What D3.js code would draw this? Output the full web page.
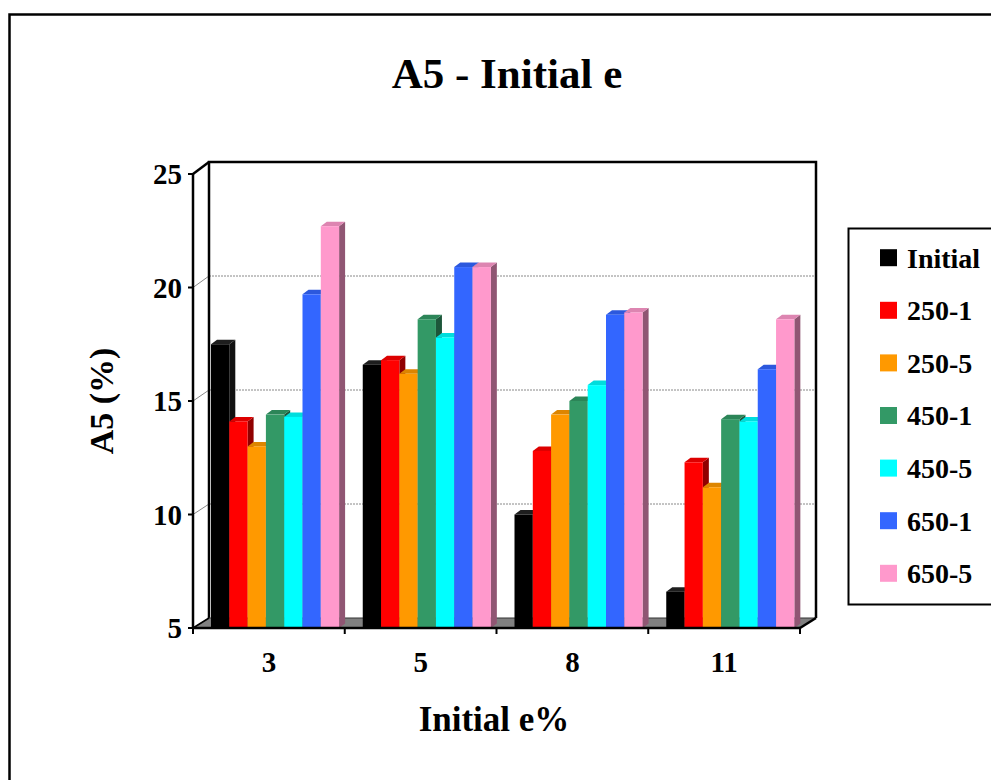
<!DOCTYPE html>
<html>
<head>
<meta charset="utf-8">
<script src="https://cdn.jsdelivr.net/npm/d3@7"></script>
<style>
  html, body { margin: 0; padding: 0; background: #fff; }
  svg { display: block; }
  text { font-family: "Liberation Serif", "Times New Roman", serif; font-weight: bold; fill: #000; }
</style>
</head>
<body>
<svg id="chart" width="991" height="780"></svg>
<script>
// Categories (initial e%) and series
const categories = ["3", "5", "8", "11"];
const seriesNames = ["Initial", "250-1", "250-5", "450-1", "450-5", "650-1", "650-5"];
const seriesColors = ["#000000", "#FF0000", "#FF9900", "#339966", "#00FFFF", "#3366FF", "#FF99CC"];

// A5 (%) per series, one value per category
const initialVals = [17.5, 16.6, 10.0, 6.6];
const s250_1 = [14.1, 16.8, 12.8, 12.3];
const s250_5 = [13.0, 16.2, 14.4, 11.2];
const s450_1 = [14.4, 18.6, 15.0, 14.2];
const s450_5 = [14.3, 17.8, 15.7, 14.1];
const s650_1 = [19.7, 20.9, 18.8, 16.4];
const s650_5 = [22.7, 20.9, 18.9, 18.6];
const seriesValues = [initialVals, s250_1, s250_5, s450_1, s450_5, s650_1, s650_5];

const yTicks = [5, 10, 15, 20, 25];
const gridValues = [10, 15, 20];

const svg = d3.select("#chart");

// Outer chart frame
svg.append("rect")
  .attr("x", 9.5).attr("y", 14.5).attr("width", 1000).attr("height", 800)
  .attr("fill", "#fff").attr("stroke", "#000").attr("stroke-width", 2.5);

// Front plane and back wall geometry
const x0 = 193, x1 = 800;
const depthX = 16;
const yFront = d3.scaleLinear().domain([5, 25]).range([628, 174]);
const yBack = d3.scaleLinear().domain([5, 25]).range([618, 162]);
const xCat = d3.scaleBand().domain(categories).range([x0, x1]).padding(0);

// Back wall
svg.append("rect")
  .attr("x", x0 + depthX).attr("y", yBack(25))
  .attr("width", x1 - x0).attr("height", yBack(5) - yBack(25))
  .attr("fill", "#fff");

// Back-wall gridlines
svg.append("g").selectAll("line").data(gridValues).join("line")
  .attr("x1", x0 + depthX).attr("x2", x1 + depthX)
  .attr("y1", d => yBack(d)).attr("y2", d => yBack(d))
  .attr("stroke", "#888").attr("stroke-width", 1).attr("stroke-dasharray", "2,1");

// Side-wall gridlines (diagonals from front axis to back wall)
svg.append("g").selectAll("line").data(gridValues).join("line")
  .attr("x1", x0).attr("x2", x0 + depthX)
  .attr("y1", d => yFront(d)).attr("y2", d => yBack(d))
  .attr("stroke", "#888").attr("stroke-width", 1);

// Wall outline: left, top, right edges of the back wall
svg.append("path")
  .attr("d", `M${x0 + depthX},${yBack(5)} L${x0 + depthX},${yBack(25)} L${x1 + depthX},${yBack(25)} L${x1 + depthX},${yBack(5)}`)
  .attr("fill", "none").attr("stroke", "#000").attr("stroke-width", 2.5);
svg.append("line")
  .attr("x1", x0).attr("y1", yFront(25)).attr("x2", x0 + depthX).attr("y2", yBack(25))
  .attr("stroke", "#000").attr("stroke-width", 2.5);

// Floor
svg.append("path")
  .attr("d", `M${x0},${yFront(5)} L${x1},${yFront(5)} L${x1 + depthX},${yBack(5)} L${x0 + depthX},${yBack(5)} Z`)
  .attr("fill", "#808080").attr("stroke", "#333").attr("stroke-width", 1);
svg.append("line")
  .attr("x1", x1).attr("y1", yFront(5)).attr("x2", x1 + depthX).attr("y2", yBack(5))
  .attr("stroke", "#000").attr("stroke-width", 2.5);
svg.append("line")
  .attr("x1", x0).attr("y1", yFront(5)).attr("x2", x0 + depthX).attr("y2", yBack(5))
  .attr("stroke", "#000").attr("stroke-width", 1.5);

// Bars: series positions within each category band
const barLead = 18, barW = 18.3;
const xSeries = d3.scaleBand().domain(seriesNames)
  .range([barLead, barLead + barW * seriesNames.length]).padding(0);
const bdx = 6, bdy = -4.5;

const bars = [];
categories.forEach((c, ci) => {
  seriesNames.forEach((s, si) => {
    bars.push({ cat: c, series: s, value: seriesValues[si][ci], color: seriesColors[si] });
  });
});

const barG = svg.append("g");
bars.forEach(b => {
  const xl = xCat(b.cat) + xSeries(b.series);
  const xr = xl + xSeries.bandwidth();
  const yt = yFront(b.value);
  const yb = yFront(5);
  const base = d3.color(b.color);
  const topCol = b.color === "#000000" ? "#1e1e1e" : base.darker(0.4).formatHex();
  const sideCol = b.color === "#000000" ? "#111" : base.darker(1.6).formatHex();
  const g = barG.append("g");
  // side face
  g.append("path")
    .attr("d", `M${xr},${yt} L${xr + bdx},${yt + bdy} L${xr + bdx},${yb + bdy} L${xr},${yb} Z`)
    .attr("fill", sideCol);
  // top face
  g.append("path")
    .attr("d", `M${xl},${yt} L${xl + bdx},${yt + bdy} L${xr + bdx},${yt + bdy} L${xr},${yt} Z`)
    .attr("fill", topCol);
  // front face
  g.append("rect")
    .attr("x", xl).attr("y", yt).attr("width", xr - xl).attr("height", yb - yt)
    .attr("fill", b.color);
});

// Front value axis
svg.append("line")
  .attr("x1", x0).attr("x2", x0).attr("y1", yFront(25)).attr("y2", yFront(5))
  .attr("stroke", "#000").attr("stroke-width", 2.5);
svg.append("g").selectAll("line").data(yTicks).join("line")
  .attr("x1", x0 - 5).attr("x2", x0).attr("y1", d => yFront(d)).attr("y2", d => yFront(d))
  .attr("stroke", "#000").attr("stroke-width", 2);
svg.append("g").selectAll("text").data(yTicks).join("text")
  .attr("x", 182).attr("y", d => yFront(d))
  .attr("dy", "0.35em").attr("text-anchor", "end")
  .attr("font-size", 29).text(d => d);

// Front category axis
svg.append("line")
  .attr("x1", x0).attr("x2", x1).attr("y1", yFront(5)).attr("y2", yFront(5))
  .attr("stroke", "#000").attr("stroke-width", 2.5);
const catEdges = [x0].concat(categories.map(c => xCat(c) + xCat.bandwidth()));
svg.append("g").selectAll("line").data(catEdges).join("line")
  .attr("x1", d => d).attr("x2", d => d).attr("y1", yFront(5)).attr("y2", yFront(5) + 6)
  .attr("stroke", "#000").attr("stroke-width", 2);
svg.append("g").selectAll("text").data(categories).join("text")
  .attr("x", d => xCat(d) + xCat.bandwidth() / 2).attr("y", 672)
  .attr("text-anchor", "middle").attr("font-size", 29).text(d => d);

// Titles
svg.append("text").attr("x", 507).attr("y", 88).attr("text-anchor", "middle")
  .attr("font-size", 43).text("A5 - Initial e");
svg.append("text").attr("x", 494).attr("y", 731).attr("text-anchor", "middle")
  .attr("font-size", 35).text("Initial e%");
svg.append("text").attr("transform", "translate(113,401) rotate(-90)")
  .attr("text-anchor", "middle").attr("font-size", 34).text("A5 (%)");

// Legend
const legend = svg.append("g");
legend.append("rect").attr("x", 848.5).attr("y", 228.5).attr("width", 200).attr("height", 376)
  .attr("fill", "#fff").attr("stroke", "#000").attr("stroke-width", 2);
const ly = d3.scalePoint().domain(seriesNames).range([257.7, 573.3]);
seriesNames.forEach((s, i) => {
  legend.append("rect").attr("x", 880).attr("y", ly(s) - 8.5).attr("width", 17).attr("height", 17)
    .attr("fill", seriesColors[i]);
  legend.append("text").attr("x", 907).attr("y", ly(s)).attr("dy", "0.35em")
    .attr("font-size", 28).text(s);
});
</script>
</body>
</html>
